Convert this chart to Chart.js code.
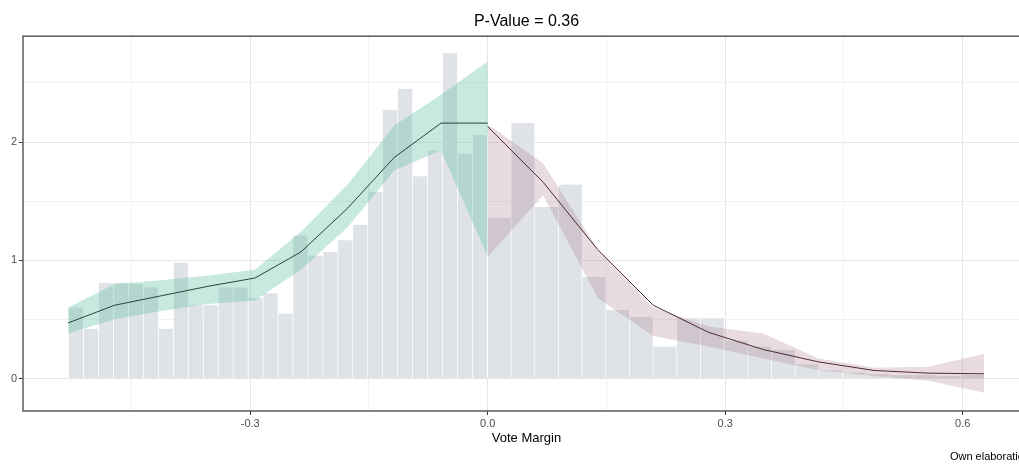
<!DOCTYPE html>
<html>
<head>
<meta charset="utf-8">
<title>Density test</title>
<script src="https://cdn.jsdelivr.net/npm/chart.js@4.4.1/dist/chart.umd.min.js"></script>
<style>
  html, body { margin: 0; padding: 0; overflow: hidden; background: #fff; }
  #wrap { width: 1035px; height: 464px; }
</style>
</head>
<body>
<div id="wrap"><canvas id="density-plot"></canvas></div>
<script>
// histogram, left of the cutoff (bin mid points and density)
var leftBinMid = [-0.5196, -0.5007, -0.4818, -0.4629, -0.4440, -0.4251, -0.4062, -0.3873,
                  -0.3684, -0.3495, -0.3306, -0.3117, -0.2928, -0.2739, -0.2550, -0.2362,
                  -0.2173, -0.1984, -0.1795, -0.1606, -0.1417, -0.1228, -0.1039, -0.0850,
                  -0.0661, -0.0472, -0.0283, -0.0094];
var leftBinDensity = [0.60, 0.42, 0.81, 0.81, 0.80, 0.77, 0.42, 0.98,
                      0.62, 0.62, 0.77, 0.77, 0.68, 0.72, 0.55, 1.21,
                      1.04, 1.07, 1.17, 1.30, 1.58, 2.27, 2.45, 1.71,
                      1.93, 2.75, 1.90, 2.06];

// histogram, right of the cutoff
var rightBinMid = [0.0150, 0.0449, 0.0748, 0.1047, 0.1346, 0.1645, 0.1944, 0.2243,
                   0.2542, 0.2841, 0.3140, 0.3439, 0.3738, 0.4037, 0.4336, 0.4635,
                   0.4934, 0.5233, 0.5532, 0.5831, 0.6130];
var rightBinDensity = [1.36, 2.16, 1.45, 1.64, 0.86, 0.58, 0.52, 0.27,
                       0.51, 0.51, 0.32, 0.27, 0.24, 0.12, 0.07, 0.05,
                       0.04, 0.03, 0.03, 0.02, 0.03];

// local polynomial density estimate with confidence band
var leftGrid  = [-0.530, -0.471, -0.412, -0.353, -0.294, -0.236, -0.177, -0.118, -0.059, 0];
var leftFit   = [0.47, 0.62, 0.70, 0.78, 0.85, 1.07, 1.44, 1.87, 2.16, 2.16];
var leftLower = [0.38, 0.50, 0.57, 0.63, 0.66, 0.92, 1.28, 1.76, 1.93, 1.03];
var leftUpper = [0.60, 0.80, 0.83, 0.87, 0.92, 1.24, 1.64, 2.14, 2.40, 2.68];

var rightGrid  = [0, 0.070, 0.139, 0.209, 0.279, 0.348, 0.418, 0.488, 0.557, 0.627];
var rightFit   = [2.13, 1.66, 1.09, 0.62, 0.39, 0.245, 0.14, 0.068, 0.045, 0.04];
var rightLower = [1.03, 1.55, 0.68, 0.36, 0.27, 0.17, 0.07, 0.02, -0.02, -0.12];
var rightUpper = [2.15, 1.82, 1.09, 0.60, 0.44, 0.38, 0.17, 0.09, 0.10, 0.21];

// axes
var xGridValues = [-0.45, -0.3, -0.15, 0, 0.15, 0.3, 0.45, 0.6];
var xTickValues = [-0.3, 0, 0.3, 0.6];
var xTickLabels = ['-0.3', '0.0', '0.3', '0.6'];
var yGridValues = [0, 0.5, 1, 1.5, 2, 2.5];
var yTickValues = [0, 1, 2];
var yTickLabels = ['0', '1', '2'];

var FONT = "'Liberation Sans', Arial, sans-serif";

function pairs(xs, ys) {
    var out = [];
    for (var i = 0; i < xs.length; i++) {
        out.push({x: xs[i], y: ys[i]});
    }
    return out;
}

function majorIndex(list, v) {
    for (var i = 0; i < list.length; i++) {
        if (Math.abs(list[i] - v) < 1e-9) return i;
    }
    return -1;
}

// grid colour / tick mark colour for major and minor lines
function gridColor(list) {
    return function(c) {
        if (!c.tick) return '#e6e6e6';
        return majorIndex(list, c.tick.value) < 0 ? '#f1f1f1' : '#e6e6e6';
    };
}
function tickMarkColor(list) {
    return function(c) {
        if (!c.tick) return '#333';
        return majorIndex(list, c.tick.value) < 0 ? 'rgba(0,0,0,0)' : '#333';
    };
}

// dark frame round the panel
var panelFrame = {
    id: 'panelFrame',
    afterDraw: function(chart) {
        var a = chart.chartArea;
        var ctx = chart.ctx;
        ctx.save();
        ctx.strokeStyle = '#666';
        ctx.lineWidth = 1.6;
        ctx.strokeRect(a.left, a.top, a.right - a.left, a.bottom - a.top);
        ctx.restore();
    }
};

var barStyle = {
    backgroundColor: '#dfe3e7',
    borderColor: '#ffffff',
    borderWidth: {left: 0, right: 1, top: 0, bottom: 0},
    borderSkipped: false,
    barPercentage: 1,
    categoryPercentage: 1,
    grouped: false,
    order: 3
};

new Chart(document.getElementById('density-plot'), {
    data: {
        datasets: [
            Object.assign({type: 'bar', label: 'hist left', xAxisID: 'x', data: pairs(leftBinMid, leftBinDensity)}, barStyle),
            Object.assign({type: 'bar', label: 'hist right', xAxisID: 'xr', data: pairs(rightBinMid, rightBinDensity)}, barStyle),
            {
                type: 'line', label: 'ci left low', data: pairs(leftGrid, leftLower),
                borderWidth: 0, pointRadius: 0, fill: false, order: 2
            },
            {
                type: 'line', label: 'ci left high', data: pairs(leftGrid, leftUpper),
                borderWidth: 0, pointRadius: 0, fill: '-1',
                backgroundColor: 'rgba(102,194,165,0.36)', order: 2
            },
            {
                type: 'line', label: 'ci right low', data: pairs(rightGrid, rightLower),
                borderWidth: 0, pointRadius: 0, fill: false, order: 2
            },
            {
                type: 'line', label: 'ci right high', data: pairs(rightGrid, rightUpper),
                borderWidth: 0, pointRadius: 0, fill: '-1',
                backgroundColor: 'rgba(165,115,132,0.25)', order: 2
            },
            {
                type: 'line', label: 'fit left', data: pairs(leftGrid, leftFit),
                borderColor: '#27443a', borderWidth: 1, pointRadius: 0, tension: 0, fill: false, order: 1
            },
            {
                type: 'line', label: 'fit right', data: pairs(rightGrid, rightFit),
                borderColor: '#4e2b36', borderWidth: 1, pointRadius: 0, tension: 0, fill: false, order: 1
            }
        ]
    },
    options: {
        responsive: true,
        maintainAspectRatio: false,
        animation: false,
        events: [],
        layout: {padding: {left: 0, right: 5, top: 0, bottom: 0}},
        plugins: {
            legend: {display: false},
            tooltip: {enabled: false},
            title: {
                display: true,
                fullSize: false,
                text: 'P-Value = 0.36',
                color: '#000',
                font: {family: FONT, size: 16, weight: 'normal'},
                padding: {top: 12, bottom: 5}
            },
            subtitle: {
                display: true,
                position: 'bottom',
                align: 'end',
                text: 'Own elaboration',
                color: '#000',
                font: {family: FONT, size: 11, weight: 'normal'},
                padding: {top: 0, bottom: 0}
            }
        },
        scales: {
            x: {
                type: 'linear',
                position: 'bottom',
                offset: false,
                min: -0.587,
                max: 0.685,
                afterBuildTicks: function(s) {
                    s.ticks = xGridValues.map(function(v) { return {value: v}; });
                },
                afterFit: function(s) { s.height = 39.8; },
                ticks: {
                    autoSkip: false,
                    maxRotation: 0,
                    padding: 2,
                    color: '#4d4d4d',
                    font: {family: FONT, size: 11},
                    callback: function(v) {
                        var k = majorIndex(xTickValues, v);
                        return k < 0 ? '' : xTickLabels[k];
                    }
                },
                grid: {
                    offset: false,
                    tickLength: 4,
                    color: gridColor(xTickValues),
                    tickColor: tickMarkColor(xTickValues)
                },
                border: {display: false},
                title: {
                    display: true,
                    text: 'Vote Margin',
                    color: '#000',
                    font: {family: FONT, size: 13},
                    padding: {top: 0, bottom: 5}
                }
            },
            xr: {
                type: 'linear',
                display: false,
                offset: false,
                min: -0.587,
                max: 0.685,
                ticks: {display: false},
                grid: {display: false, offset: false}
            },
            y: {
                type: 'linear',
                min: -0.275,
                max: 2.895,
                afterBuildTicks: function(s) {
                    s.ticks = yGridValues.map(function(v) { return {value: v}; });
                },
                afterFit: function(s) { s.width = 23; },
                ticks: {
                    padding: 2,
                    color: '#4d4d4d',
                    font: {family: FONT, size: 11},
                    callback: function(v) {
                        var k = majorIndex(yTickValues, v);
                        return k < 0 ? '' : yTickLabels[k];
                    }
                },
                grid: {
                    tickLength: 4,
                    color: gridColor(yTickValues),
                    tickColor: tickMarkColor(yTickValues)
                },
                border: {display: false}
            }
        }
    },
    plugins: [panelFrame]
});
</script>
</body>
</html>
